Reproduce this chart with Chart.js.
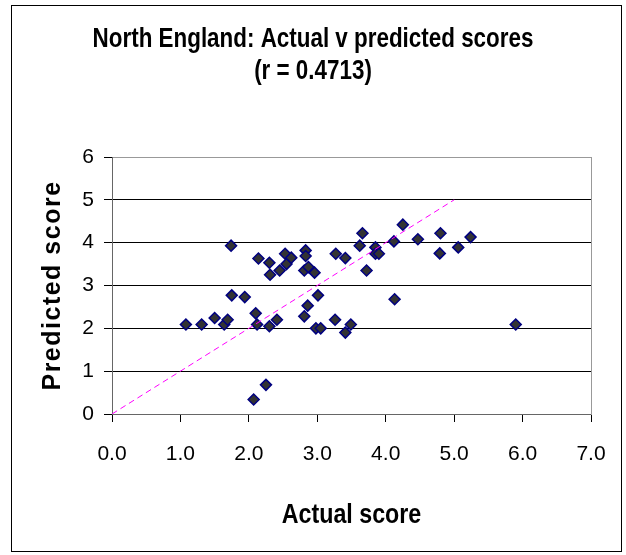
<!DOCTYPE html>
<html><head><meta charset="utf-8">
<script src="https://cdn.jsdelivr.net/npm/chart.js@4.4.1/dist/chart.umd.min.js"></script>
<style>html,body{margin:0;padding:0;background:#fff;}#wrap{width:626px;height:555px;}</style>
</head><body><div id="wrap"><canvas id="c" width="626" height="555"></canvas></div>
<script>
const chartTitle = ['North England: Actual v predicted scores', '(r = 0.4713)'];
const xAxisTitle = 'Actual score';
const yAxisTitle = 'Predicted score';
const actualScores = [1.08,1.31,1.50,1.64,1.69,1.74,1.75,1.94,2.07,2.10,2.12,2.14,2.25,2.30,2.30,2.31,2.41,2.45,2.53,2.55,2.62,2.81,2.86,2.83,2.83,2.81,2.87,2.96,3.01,2.98,3.05,3.26,3.27,3.41,3.41,3.49,3.62,3.66,3.72,3.85,3.85,3.90,4.12,4.13,4.25,4.47,4.79,4.80,5.06,5.24,5.90];
const predictedScores = [2.09,2.09,2.24,2.09,2.20,3.93,2.77,2.73,0.34,2.35,2.09,3.63,0.68,2.05,3.53,3.25,2.20,3.35,3.74,3.50,3.65,2.28,2.53,3.82,3.69,3.35,3.43,3.30,2.77,2.00,2.00,2.20,3.74,3.64,1.90,2.09,3.93,4.22,3.35,3.89,3.74,3.74,4.03,2.68,4.42,4.08,3.75,4.22,3.89,4.13,2.09];
const trendX = [0, 5];
const trendY = [0, 5];
const xTicks = [0,1,2,3,4,5,6,7];
const yTicks = [0,1,2,3,4,5,6];

const points = actualScores.map((x, i) => ({x: x, y: predictedScores[i]}));
const trend = trendX.map((x, i) => ({x: x, y: trendY[i]}));

const NARROW = 0.83;
function condensed(ctx, cx, k, fn) {
  ctx.save();
  ctx.translate(cx, 0);
  ctx.scale(k, 1);
  ctx.translate(-cx, 0);
  fn();
  ctx.restore();
}

const framePlugin = {
  id: 'frame',
  afterLayout(chart) {
    const tb = chart.titleBlock;
    if (tb && !tb._narrow) {
      const orig = tb.draw.bind(tb);
      tb.draw = function() {
        const cx = (this.left + this.right) / 2;
        condensed(this.ctx, cx, NARROW, orig);
      };
      tb._narrow = true;
    }
  },
  afterDraw(chart) {
    const ctx = chart.ctx;
    ctx.save();
    ctx.strokeStyle = '#000';
    ctx.lineWidth = 1;
    ctx.strokeRect(11.5, 5.5, 610, 546);
    ctx.restore();
  }
};

new Chart(document.getElementById('c'), {
  type: 'scatter',
  data: {
    datasets: [
      {
        label: 'Scores',
        data: points,
        pointStyle: 'rectRot',
        pointRadius: 5.5,
        pointHoverRadius: 5.5,
        backgroundColor: '#333333',
        borderColor: '#000080',
        borderWidth: 1.5,
        order: 2
      },
      {
        type: 'line',
        label: 'Trend',
        data: trend,
        borderColor: '#FF00FF',
        borderWidth: 1,
        borderDash: [6, 4],
        pointRadius: 0,
        fill: false,
        order: 1
      }
    ]
  },
  options: {
    responsive: false,
    devicePixelRatio: 1,
    animation: false,
    events: [],
    layout: {padding: 0},
    plugins: {
      legend: {display: false},
      tooltip: {enabled: false},
      title: {
        display: true,
        text: chartTitle,
        color: '#000',
        font: {family: "'Liberation Sans',Arial,sans-serif", size: 27, weight: 'bold', lineHeight: '32px'},
        padding: {top: 24, bottom: 69}
      }
    },
    scales: {
      x: {
        type: 'linear',
        position: 'bottom',
        min: 0, max: 7,
        afterBuildTicks(scale) { scale.ticks = xTicks.map(v => ({value: v})); },
        afterFit(scale) {
          scale.height = 141;
          if (!scale._narrow) {
            const orig = scale.drawTitle.bind(scale);
            scale.drawTitle = function() {
              condensed(this.ctx, (this.left + this.right) / 2, NARROW, orig);
            };
            scale._narrow = true;
          }
        },
        ticks: {
          color: '#000',
          font: {family: "'Liberation Sans',Arial,sans-serif", size: 21},
          padding: 20,
          maxRotation: 0,
          callback: v => Number(v).toFixed(1)
        },
        grid: {display: true, drawOnChartArea: false, drawTicks: true, tickLength: 8, tickColor: '#000'},
        border: {display: true, color: '#666666', width: 1},
        title: {
          display: true,
          text: xAxisTitle,
          color: '#000',
          font: {family: "'Liberation Sans',Arial,sans-serif", size: 28, weight: 'bold', lineHeight: 1.2},
          padding: {top: 0, bottom: 23}
        }
      },
      y: {
        type: 'linear',
        position: 'left',
        min: 0, max: 6,
        afterBuildTicks(scale) { scale.ticks = yTicks.map(v => ({value: v})); },
        afterFit(scale) {
          scale.width = 112;
          if (!scale._spaced) {
            const orig = scale.drawTitle.bind(scale);
            scale.drawTitle = function() {
              const ctx = this.ctx;
              const prev = ctx.letterSpacing;
              ctx.letterSpacing = '1.5px';
              orig();
              ctx.letterSpacing = prev || '0px';
            };
            scale._spaced = true;
          }
        },
        ticks: {
          color: '#000',
          font: {family: "'Liberation Sans',Arial,sans-serif", size: 21},
          padding: 10
        },
        grid: {
          color: c => (c.tick && c.tick.value === 6) ? '#999999' : (c.tick && c.tick.value === 0 ? '#666666' : '#000000'),
          lineWidth: 1,
          drawTicks: true,
          tickLength: 8,
          tickColor: '#000'
        },
        border: {display: true, color: '#666666', width: 1},
        title: {
          display: true,
          text: yAxisTitle,
          color: '#000',
          font: {family: "'Liberation Sans',Arial,sans-serif", size: 25, weight: 'bold', lineHeight: 1.2},
          padding: {top: 38, bottom: 0}
        }
      },
      yRight: {
        type: 'linear',
        position: 'right',
        min: 0, max: 6,
        afterFit(scale) { scale.width = 35; },
        ticks: {display: false},
        grid: {drawOnChartArea: false, drawTicks: false},
        border: {display: true, color: '#999999', width: 1}
      }
    }
  },
  plugins: [framePlugin]
});
</script>
</body></html>
